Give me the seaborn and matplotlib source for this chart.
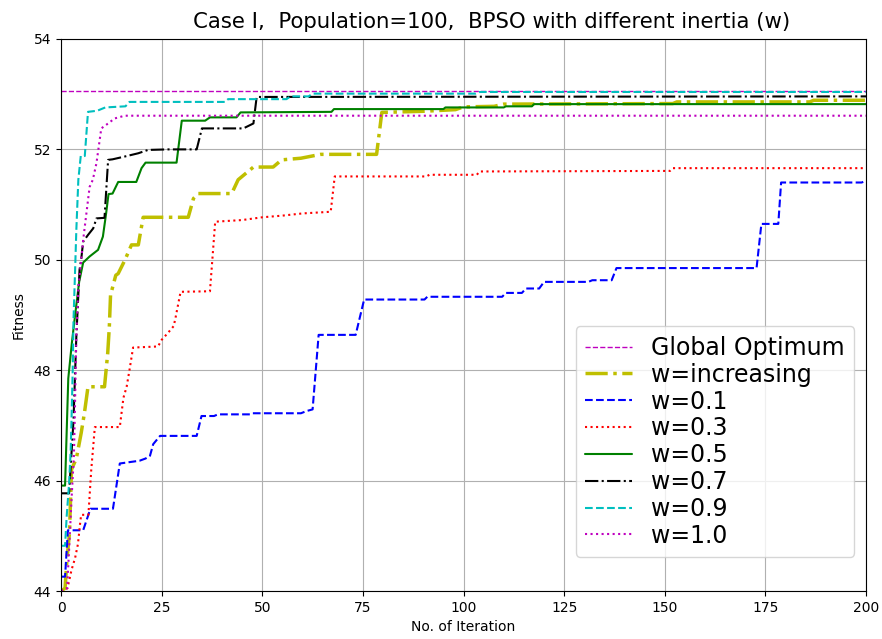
import matplotlib
matplotlib.use("Agg")
import matplotlib.pyplot as plt
import seaborn as sns

# Best fitness per iteration (breakpoints of each convergence curve)
global_opt = 53.05
iter_range = [0, 200]

inc_x = [0, 1, 1.5, 2.1, 2.6, 3.8, 4.2, 5, 5.8, 6.7, 10.8, 11.6, 12, 12.3, 13.6, 14.2, 15.9, 17.5, 19.2, 20.4,
         31.6, 32.9, 34.1, 42.4, 44, 47.8, 52.7, 54.8, 59.6, 64.5, 78.4, 79.7, 90, 98, 100, 107.6, 110, 152,
         153, 186, 187, 200]
inc_y = [44.0, 44.05, 44.6, 45.05, 46.2, 46.4, 46.55, 46.86, 47.22, 47.70, 47.70, 48.31, 48.79, 49.36, 49.72,
         49.75, 50.0, 50.27, 50.27, 50.77, 50.77, 51.11, 51.2, 51.2, 51.45, 51.68, 51.68, 51.81, 51.84, 51.91,
         51.91, 52.67, 52.69, 52.72, 52.77, 52.78, 52.82, 52.83, 52.86, 52.86, 52.89, 52.89]

w01_x = [0, 1, 1.7, 5.5, 7.3, 12.9, 14.6, 19.5, 21, 22.1, 22.9, 24.6, 33.7, 34.9, 38, 39, 47, 47.5, 59.6, 61,
         62.5, 64, 73.2, 75.3, 90.3, 91, 109.6, 110.5, 114.5, 115.5, 118.8, 120, 131, 132, 136.8, 138, 172.8,
         174, 178.2, 178.9, 198.9, 200]
w01_y = [44.26, 44.26, 45.1, 45.1, 45.49, 45.49, 46.31, 46.36, 46.40, 46.45, 46.66, 46.81, 46.81, 47.17, 47.17,
         47.20, 47.20, 47.22, 47.22, 47.26, 47.29, 48.64, 48.64, 49.28, 49.28, 49.33, 49.33, 49.40, 49.40, 49.48,
         49.48, 49.60, 49.60, 49.63, 49.63, 49.85, 49.85, 50.65, 50.65, 51.40, 51.40, 51.43]

w03_x = [0, 1.6, 2.6, 3.5, 4.2, 4.7, 5, 6.8, 7.5, 8.4, 14.6, 15.5, 16.3, 17, 17.9, 24.1, 25, 26.5, 28, 28.5,
         29.7, 37, 38.3, 45, 50, 55, 60, 67, 68, 90.8, 91.5, 103.3, 104, 151.3, 152, 200]
w03_y = [44.0, 44.05, 44.38, 44.6, 44.85, 45.2, 45.38, 45.38, 46.19, 46.97, 46.97, 47.5, 47.7, 48.0, 48.41,
         48.43, 48.55, 48.67, 48.8, 48.97, 49.42, 49.43, 50.69, 50.72, 50.77, 50.80, 50.84, 50.87, 51.51, 51.51,
         51.54, 51.54, 51.60, 51.61, 51.66, 51.66]

w05_x = [0, 1, 1.8, 2.7, 3.5, 4.5, 5.5, 7.1, 9.2, 10.4, 11.2, 11.8, 12.8, 14.2, 18.7, 20, 21, 28.7, 30, 35.8,
         37, 43.6, 44.6, 67.2, 67.8, 95, 95.5, 110, 110.5, 117, 117.5, 200]
w05_y = [45.91, 45.91, 47.85, 48.5, 49.0, 49.6, 49.95, 50.06, 50.18, 50.42, 50.84, 51.19, 51.2, 51.41, 51.41,
         51.66, 51.76, 51.76, 52.52, 52.52, 52.58, 52.58, 52.67, 52.68, 52.73, 52.73, 52.76, 52.76, 52.78, 52.78,
         52.82, 52.82]

w07_x = [0, 2, 3.1, 3.8, 4.2, 4.6, 5, 5.5, 6.7, 8, 8.8, 10.8, 11.7, 12.8, 15.8, 19.2, 21.6, 26.6, 33.7, 35,
         45.3, 47.8, 48.6, 200]
w07_y = [45.77, 45.77, 47.1, 48.61, 49.21, 49.82, 50.0, 50.33, 50.45, 50.57, 50.75, 50.76, 51.81, 51.82, 51.87,
         51.93, 51.99, 52.0, 52.0, 52.38, 52.38, 52.47, 52.95, 52.96]

w09_x = [0, 1, 1.4, 2, 2.4, 2.6, 2.9, 3.1, 3.5, 3.8, 4.3, 4.9, 5.9, 6.7, 9, 11, 16, 17, 40.7, 41.5, 56, 57,
         61.5, 62.5, 103, 104, 200]
w09_y = [44.82, 44.82, 45.35, 45.95, 46.55, 47.1, 48.0, 48.91, 49.82, 50.54, 51.45, 51.88, 51.88, 52.68, 52.70,
         52.76, 52.78, 52.86, 52.86, 52.91, 52.91, 52.96, 52.96, 53.01, 53.01, 53.04, 53.04]

w10_x = [0, 1.5, 2, 2.6, 3.2, 3.4, 3.8, 4.3, 4.6, 5.5, 6.3, 7.1, 7.9, 8.8, 9.6, 10, 11.7, 13.3, 15.8, 200]
w10_y = [44.0, 44.05, 44.74, 45.65, 46.46, 47.1, 48.61, 49.51, 49.69, 50.36, 50.84, 51.32, 51.45, 51.75, 52.17,
         52.38, 52.47, 52.56, 52.61, 52.61]

sns.set_style("ticks", {"axes.grid": True, "grid.color": "#b0b0b0", "axes.edgecolor": "black",
                        "xtick.color": "black", "ytick.color": "black", "text.color": "black",
                        "axes.labelcolor": "black"})
plt.rcParams["font.family"] = ["DejaVu Sans"]

fig, ax = plt.subplots(figsize=(8.82, 6.39), dpi=100)
fig.subplots_adjust(left=0.0692, right=0.9819, top=0.939, bottom=0.0751)

series = [
    (iter_range, [global_opt, global_opt], "m", "--", 1.0, "Global Optimum"),
    (inc_x, inc_y, "y", "-.", 2.5, "w=increasing"),
    (w01_x, w01_y, "b", "--", 1.5, "w=0.1"),
    (w03_x, w03_y, "r", ":", 1.5, "w=0.3"),
    (w05_x, w05_y, "g", "-", 1.5, "w=0.5"),
    (w07_x, w07_y, "k", "-.", 1.5, "w=0.7"),
    (w09_x, w09_y, "c", "--", 1.5, "w=0.9"),
    (w10_x, w10_y, "m", ":", 1.5, "w=1.0"),
]
for xs, ys, col, ls, lw, lab in series:
    sns.lineplot(x=xs, y=ys, ax=ax, color=col, linestyle=ls, linewidth=lw, label=lab,
                 estimator=None, sort=False)

ax.set_xlim(0, 200)
ax.set_ylim(44, 54)
ax.set_xticks(range(0, 201, 25))
ax.set_yticks(range(44, 55, 2))
ax.grid(True, color="#b0b0b0", linewidth=0.8)
ax.tick_params(direction="out", length=3.5, width=0.8, labelsize=10)
for sp in ax.spines.values():
    sp.set_color("black")
    sp.set_linewidth(0.8)
    sp.set_visible(True)

ax.set_title("Case I,  Population=100,  BPSO with different inertia (w)", fontsize=15.3,
             x=0.535, pad=8)
ax.set_xlabel("No. of Iteration", fontsize=10)
ax.set_ylabel("Fitness", fontsize=10, labelpad=6)
ax.legend(loc="lower right", bbox_to_anchor=(1.0, 0.04), fontsize=17, labelspacing=0.12,
          frameon=True, framealpha=0.8, edgecolor="#cccccc", fancybox=True)

fig.savefig("out.png", dpi=100)
